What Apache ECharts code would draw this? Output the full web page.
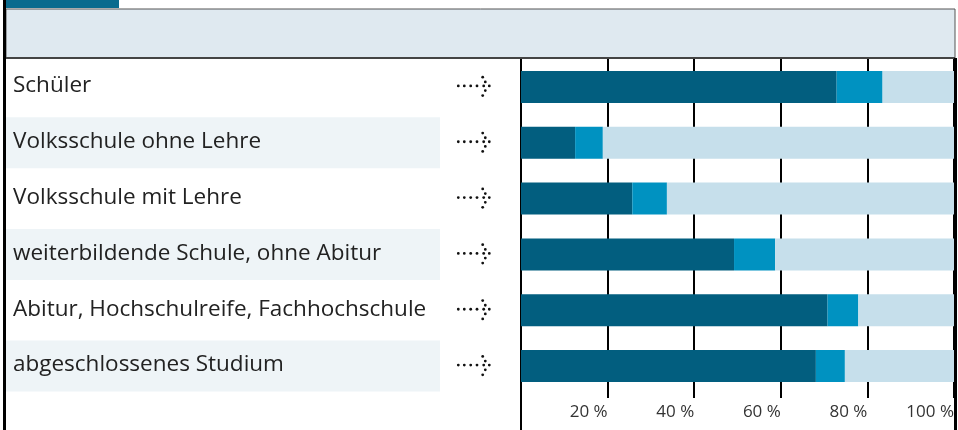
<!DOCTYPE html>
<html>
<head>
    <meta charset="utf-8">
    <title>Bildung</title>
    <script type="text/javascript" src="https://cdn.jsdelivr.net/npm/echarts@6/dist/echarts.min.js"></script>
    <style type="text/css">
        html, body { margin: 0; padding: 0; background: #fff; }
        #main { width: 958px; height: 430px; }
    </style>
</head>
<body>
<div id="main"></div>
<script type="text/javascript">
    // Daten
    var categories = [
        'Schüler',
        'Volksschule ohne Lehre',
        'Volksschule mit Lehre',
        'weiterbildende Schule, ohne Abitur',
        'Abitur, Hochschulreife, Fachhochschule',
        'abgeschlossenes Studium'
    ];
    var darkValues   = [72.9, 12.5, 25.7, 49.2, 70.8, 68.1];
    var midValues    = [10.6, 6.4, 8.0, 9.5, 7.1, 6.7];
    var lightValues  = [16.5, 81.1, 66.3, 41.3, 22.1, 25.2];
    var tickLabels   = ['', '20 %', '40 %', '60 %', '80 %', '100 %'];

    var myChart = echarts.init(document.getElementById('main'));

    // Pfeil aus Punkten, relativ zur Achse
    var arrowDots = [
        [-62.7, -1], [-56.7, -1], [-50.3, -1], [-44, -1], [-37.3, -1], [-31.7, -1],
        [-38.3, -9.7], [-35.7, -5], [-35.7, 3.7], [-38.3, 8.7]
    ];

    var option = {
        animation: false,
        textStyle: { fontFamily: 'Open Sans' },
        grid: { left: 521, right: 4, top: 59, bottom: 36 },
        xAxis: {
            type: 'value',
            min: 0,
            max: 100,
            interval: 20,
            axisLine: { show: false },
            axisTick: { show: true, length: 4, lineStyle: { color: '#000', width: 2 } },
            splitLine: { show: true, lineStyle: { color: '#000', width: 2 } },
            axisLabel: {
                formatter: function (v) { return tickLabels[v / 20]; },
                align: 'right',
                margin: 10,
                fontSize: 17,
                color: '#333'
            }
        },
        yAxis: {
            type: 'category',
            inverse: true,
            data: categories,
            axisLine: { show: false },
            axisTick: { show: false },
            axisLabel: {
                align: 'left',
                margin: 515,
                formatter: function (v, i) {
                    return (i % 2 ? '{b|' : '{a|') + v + '}';
                },
                rich: {
                    a: { fontSize: 22.5, color: '#222', width: 427, height: 49, padding: [0, 0, 2, 7] },
                    b: { fontSize: 22.5, color: '#222', width: 427, height: 49, padding: [0, 0, 2, 7], backgroundColor: '#eef4f7' }
                }
            }
        },
        series: [
            { name: 'a', type: 'bar', stack: 'all', barWidth: 32, data: darkValues, itemStyle: { color: '#025e7f' } },
            { name: 'b', type: 'bar', stack: 'all', barWidth: 32, data: midValues, itemStyle: { color: '#0092c1' } },
            { name: 'c', type: 'bar', stack: 'all', barWidth: 32, data: lightValues, itemStyle: { color: '#c6dfeb' } },
            {
                type: 'custom',
                clip: false,
                silent: true,
                data: categories.map(function (c, i) { return [0, i]; }),
                renderItem: function (params, api) {
                    var p = api.coord([0, api.value(1)]);
                    return {
                        type: 'group',
                        children: arrowDots.map(function (d) {
                            return {
                                type: 'circle',
                                shape: { cx: p[0] + d[0], cy: p[1] + d[1], r: 1.4 },
                                style: { fill: '#111' }
                            };
                        })
                    };
                }
            }
        ],
        graphic: [
            // Kopfzeile
            { type: 'rect', shape: { x: 6, y: 9, width: 949, height: 49 }, style: { fill: '#dfe9f0', stroke: '#555', lineWidth: 1 }, z: 0 },
            { type: 'rect', shape: { x: 6, y: 57, width: 949, height: 2 }, style: { fill: '#444' } },
            { type: 'rect', shape: { x: 6, y: 0, width: 113, height: 8 }, style: { fill: '#0a6b8e' } },
            // Rahmen
            { type: 'rect', shape: { x: 3, y: 0, width: 3, height: 430 }, style: { fill: '#000' } },
            { type: 'rect', shape: { x: 954, y: 58, width: 3, height: 372 }, style: { fill: '#000' } },
            { type: 'rect', shape: { x: 520, y: 394, width: 2, height: 36 }, style: { fill: '#000' } }
        ]
    };

    myChart.setOption(option);
</script>
</body>
</html>
